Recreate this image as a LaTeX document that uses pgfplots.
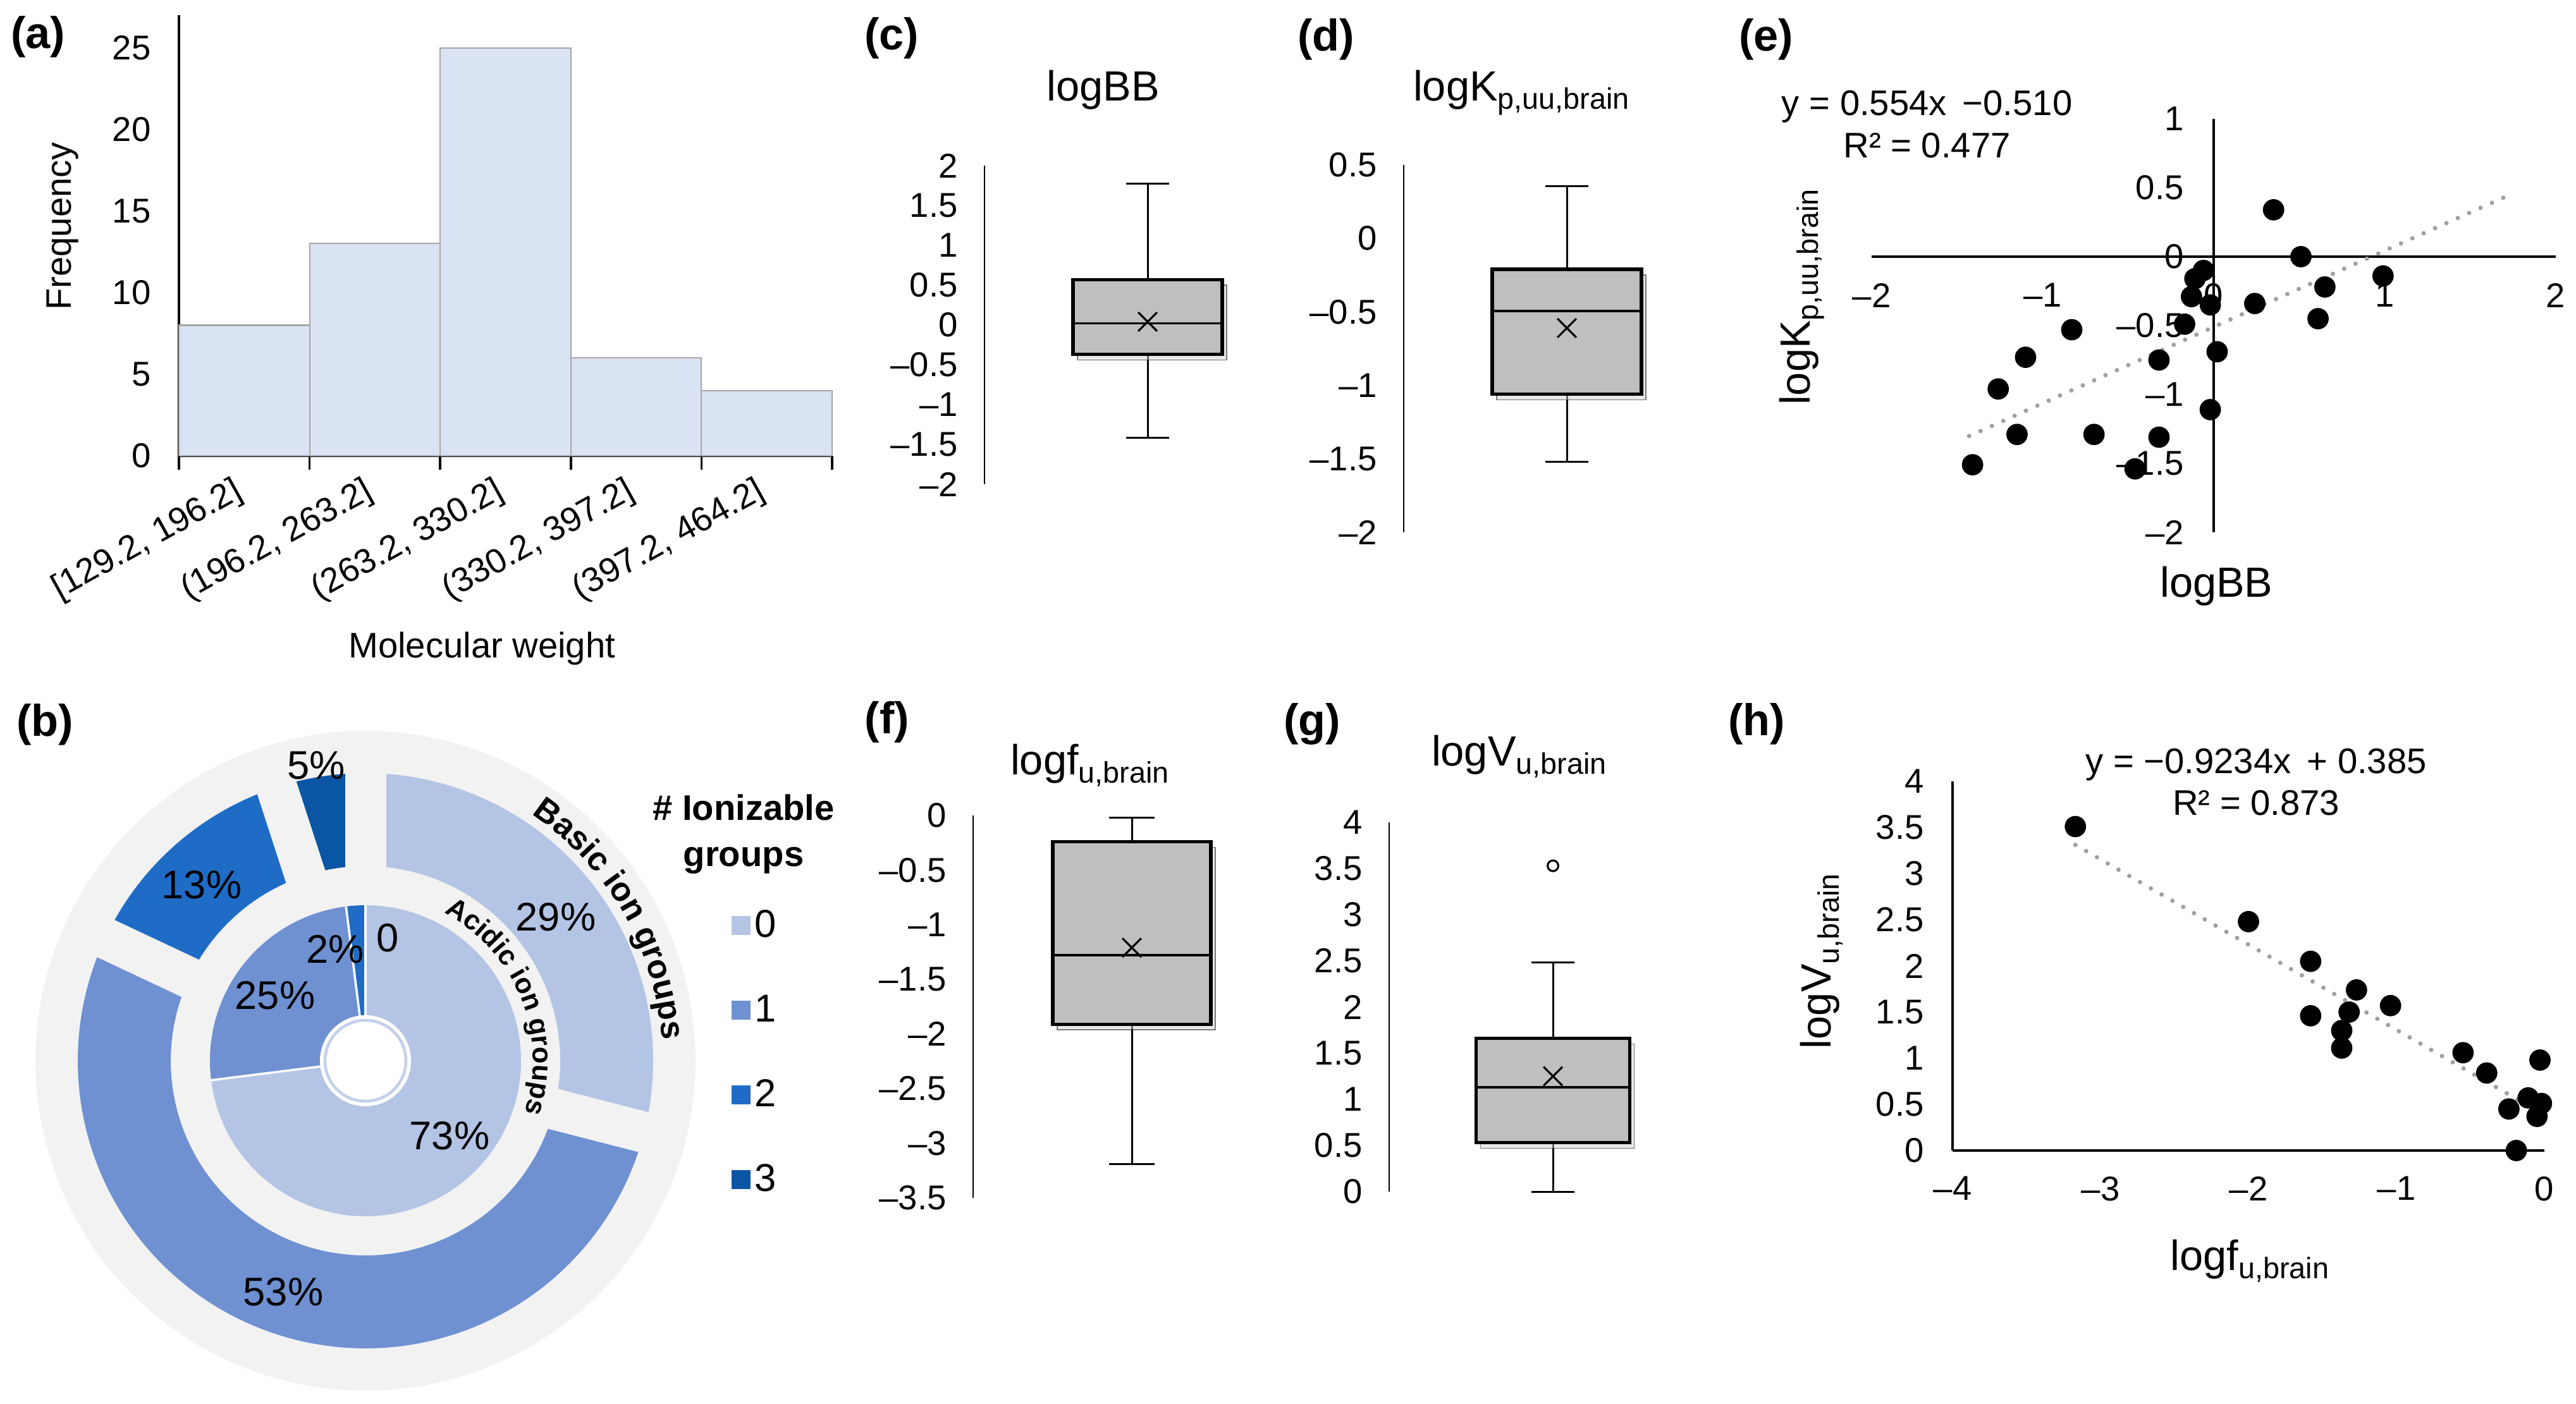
\documentclass[border=0pt]{standalone}
\usepackage{fontspec}
\setmainfont{Liberation Sans}
\usepackage{pgfplots}
\pgfplotsset{compat=1.18}
\usepgfplotslibrary{statistics}
\usetikzlibrary{decorations.text,shadows}

\definecolor{cA}{RGB}{180,196,228}
\definecolor{cB}{RGB}{111,145,210}
\definecolor{cC}{RGB}{31,108,198}
\definecolor{cD}{RGB}{11,85,165}
\definecolor{bgg}{RGB}{242,242,242}
\definecolor{barfill}{RGB}{218,227,243}
\definecolor{barline}{RGB}{166,166,166}
\definecolor{boxg}{RGB}{191,191,191}
\definecolor{trendc}{RGB}{160,160,160}

\newcommand\tk{\fontsize{15.5}{18}\selectfont}
\newcommand\ttl{\fontsize{19}{22}\selectfont}
\newcommand\pl{\fontsize{20}{24}\selectfont\bfseries}
\newcommand\pct{\fontsize{18}{21}\selectfont}
\newcommand\eqf{\fontsize{16}{19}\selectfont}

\pgfplotsset{
  boxax/.style={scale only axis, anchor=south west, xmin=0, xmax=2,
    axis x line=none, axis y line*=left,
    y axis line style={line width=0.7pt, -},
    major tick length=0pt, tick label style={font=\tk},
    yticklabel style={xshift=-0.3cm}, clip=false,
    boxplot/draw direction=y,
    boxplot/every box/.style={fill=boxg, draw=black, line width=1.5pt,
      drop shadow={shadow xshift=0.07cm, shadow yshift=-0.09cm, fill=black!18}},
    boxplot/every whisker/.style={line width=0.85pt},
    boxplot/every median/.style={line width=1.1pt},
    title style={font=\ttl, anchor=center}},
  meanx/.style={only marks, mark=x, mark size=6pt, mark options={line width=0.9pt, black}},
  dots/.style={only marks, mark=*, mark size=4.6pt, mark options={fill=black, draw=black}},
  trend/.style={trendc, line width=2pt, line cap=round, dash pattern=on 0pt off 5.6pt},
  ringsec/.style={no marks, samples=120, line cap=butt},
  sqleg/.style={legend image code/.code={\path[fill=#1, draw=none, line width=0pt] (0cm,-0.15cm) rectangle (0.3cm,0.15cm);}},
}

\begin{document}
\begin{tikzpicture}
\path[use as bounding box] (0,0) rectangle (40.74cm,-22.21cm);

% ---------------- (a) histogram
\begin{axis}[scale only axis, anchor=south west, at={(2.83cm,-7.21cm)},
  width=10.33cm, height=6.97cm, xmin=0, xmax=5, ymin=0, ymax=27,
  axis lines=left, axis line style={-, line width=1.2pt},
  xtick={0,1,2,3,4,5}, xticklabels={},
  ytick={0,5,10,15,20,25}, yticklabels={0,5,10,15,20,25}, ytick style={draw=none},
  xtick style={line width=1pt, black},
  tick align=outside, major tick length=0.22cm,
  tick label style={font=\tk}, yticklabel style={xshift=-0.1cm},
  extra x ticks={0.5,1.5,2.5,3.5,4.5},
  extra x tick labels={{[129.2, 196.2]},{(196.2, 263.2]},{(263.2, 330.2]},{(330.2, 397.2]},{(397.2, 464.2]}},
  extra x tick style={major tick length=0pt, tick label style={rotate=29, anchor=north east, xshift=-0.2cm, yshift=-0.05cm}},
  xlabel={Molecular weight}, ylabel={Frequency},
  every axis x label/.style={at={(axis description cs:0.464,-0.438)}, anchor=center, font=\fontsize{16}{19}\selectfont},
  every axis y label/.style={at={(axis description cs:-0.178,0.521)}, anchor=center, rotate=90, font=\fontsize{16}{19}\selectfont},
  clip=false]
\addplot[ybar interval, fill=barfill, draw=barline, line width=0.6pt] coordinates {(0,8) (1,13) (2,25) (3,6) (4,4) (5,4)};
\end{axis}

% ---------------- (c) logBB box
\begin{axis}[boxax, at={(15.57cm,-7.66cm)}, width=5.16cm, height=5.04cm,
  ymin=-2, ymax=2, ytick={-2,-1.5,-1,-0.5,0,0.5,1,1.5,2},
  yticklabels={--2,--1.5,--1,--0.5,0,0.5,1,1.5,2},
  title={logBB}, title style={at={(axis description cs:0.364,1.196)}}]
\addplot[boxplot prepared={draw position=1, lower whisker=-1.42, lower quartile=-0.37, median=0.02, upper quartile=0.57, upper whisker=1.77, box extend=0.915, whisker extend=0.267}] coordinates {};
\addplot[meanx] coordinates {(1,0.04)};
\end{axis}

% ---------------- (d) logKp,uu,brain box
\begin{axis}[boxax, at={(22.20cm,-8.42cm)}, width=5.16cm, height=5.81cm,
  ymin=-2, ymax=0.5, ytick={-2,-1.5,-1,-0.5,0,0.5},
  yticklabels={--2,--1.5,--1,--0.5,0,0.5},
  title={logK\textsubscript{p,uu,brain}}, title style={at={(axis description cs:0.362,1.160)}}]
\addplot[boxplot prepared={draw position=1, lower whisker=-1.52, lower quartile=-1.06, median=-0.495, upper quartile=-0.21, upper whisker=0.355, box extend=0.915, whisker extend=0.267}] coordinates {};
\addplot[meanx] coordinates {(1,-0.61)};
\end{axis}

% ---------------- (f) logfu,brain box
\begin{axis}[boxax, at={(15.39cm,-18.95cm)}, width=5.02cm, height=6.05cm,
  ymin=-3.5, ymax=0, ytick={-3.5,-3,-2.5,-2,-1.5,-1,-0.5,0},
  yticklabels={--3.5,--3,--2.5,--2,--1.5,--1,--0.5,0},
  title={logf\textsubscript{u,brain}}, title style={at={(axis description cs:0.369,1.096)}}]
\addplot[boxplot prepared={draw position=1, lower whisker=-3.19, lower quartile=-1.91, median=-1.28, upper quartile=-0.24, upper whisker=-0.02, box extend=0.996, whisker extend=0.287}] coordinates {};
\addplot[meanx] coordinates {(1,-1.21)};
\end{axis}

% ---------------- (g) logVu,brain box
\begin{axis}[boxax, at={(21.97cm,-18.85cm)}, width=5.18cm, height=5.84cm,
  ymin=0, ymax=4, ytick={0,0.5,1,1.5,2,2.5,3,3.5,4},
  yticklabels={0,0.5,1,1.5,2,2.5,3,3.5,4},
  title={logV\textsubscript{u,brain}}, title style={at={(axis description cs:0.398,1.142)}}]
\addplot[boxplot prepared={draw position=1, lower whisker=0.0, lower quartile=0.53, median=1.13, upper quartile=1.66, upper whisker=2.48, box extend=0.938, whisker extend=0.263}] coordinates {};
\addplot[meanx] coordinates {(1,1.25)};
\addplot[only marks, mark=o, mark size=2.4pt, mark options={fill=white, draw=black, line width=0.9pt}] coordinates {(1,3.53)};
\end{axis}

% ---------------- (e) scatter logBB vs logKp,uu,brain
\begin{axis}[scale only axis, anchor=south west, at={(29.60cm,-8.42cm)},
  width=10.82cm, height=6.54cm, xmin=-2, xmax=2, ymin=-2, ymax=1,
  axis lines=middle, axis line style={-, line width=1.15pt},
  xtick={-2,-1,0,1,2}, xticklabels={--2,--1,0,1,2},
  ytick={-2,-1.5,-1,-0.5,0,0.5,1}, yticklabels={--2,--1.5,--1,--0.5,0,0.5,1},
  major tick length=0pt, hide obscured x ticks=false, hide obscured y ticks=false,
  tick label style={font=\tk}, xticklabel style={yshift=-0.3cm}, yticklabel style={xshift=-0.35cm},
  xlabel={logBB}, ylabel={logK\textsubscript{p,uu,brain}},
  every axis x label/.style={at={(axis description cs:0.504,-0.131)}, anchor=center, font=\ttl},
  every axis y label/.style={at={(axis description cs:-0.102,0.570)}, anchor=center, rotate=90, font=\ttl},
  clip=false]
\addplot[trend] coordinates {(-1.43,-1.302) (1.73,0.448)};
\addplot[dots] coordinates {
 (0.35,0.34) (0.51,0.00) (0.99,-0.14) (0.65,-0.22) (0.61,-0.45) (0.24,-0.34)
 (-0.06,-0.10) (-0.11,-0.16) (-0.13,-0.29) (-0.02,-0.35) (-0.17,-0.49) (0.02,-0.69)
 (-0.02,-1.11) (-0.32,-0.75) (-0.32,-1.31) (-0.70,-1.29) (-0.46,-1.54) (-0.83,-0.53)
 (-1.10,-0.73) (-1.26,-0.96) (-1.15,-1.29) (-1.41,-1.51)};
\node[align=center, font=\eqf] at (axis description cs:0.081,0.987) {y = 0.554x \,−0.510\\R² = 0.477};
\end{axis}

% ---------------- (h) scatter logfu,brain vs logVu,brain
\begin{axis}[scale only axis, anchor=south west, at={(30.88cm,-18.20cm)},
  width=9.36cm, height=5.84cm, xmin=-4, xmax=0, ymin=0, ymax=4,
  axis lines=left, axis line style={-, line width=1.15pt},
  xtick={-4,-3,-2,-1,0}, xticklabels={--4,--3,--2,--1,0},
  ytick={0,0.5,1,1.5,2,2.5,3,3.5,4}, yticklabels={0,0.5,1,1.5,2,2.5,3,3.5,4},
  major tick length=0pt,
  tick label style={font=\tk}, xticklabel style={yshift=-0.29cm}, yticklabel style={xshift=-0.33cm},
  xlabel={logf\textsubscript{u,brain}}, ylabel={logV\textsubscript{u,brain}},
  every axis x label/.style={at={(axis description cs:0.503,-0.30)}, anchor=center, font=\ttl},
  every axis y label/.style={at={(axis description cs:-0.221,0.514)}, anchor=center, rotate=90, font=\ttl},
  clip=false]
\addplot[trend] coordinates {(-3.17,3.312) (-0.02,0.403)};
\addplot[dots] coordinates {
 (-3.17,3.51) (-2.00,2.48) (-1.58,2.05) (-1.27,1.74) (-1.04,1.57) (-1.58,1.46)
 (-1.32,1.50) (-1.37,1.30) (-1.37,1.11) (-0.55,1.06) (-0.39,0.84) (-0.03,0.98)
 (-0.24,0.45) (-0.11,0.57) (-0.02,0.51) (-0.05,0.37) (-0.19,0.00)};
\node[align=center, font=\eqf] at (axis description cs:0.513,0.998) {y = −0.9234x \,+ 0.385\\R² = 0.873};
\end{axis}

% ---------------- (b) doughnut (angles from the percentages, clockwise from 12 o'clock)
\begin{axis}[scale only axis, anchor=south west, at={(0.56cm,-22.00cm)},
  width=10.44cm, height=10.44cm, xmin=-522, xmax=522, ymin=-522, ymax=522,
  hide axis, clip=false,
  legend style={at={(axis cs:578,246)}, anchor=north west, draw=none, fill=none,
    inner sep=0pt, font=\fontsize{17.5}{20}\selectfont, row sep=0.72cm,
    /tikz/every even column/.append style={column sep=0.1cm}},
  legend cell align=left]
\addplot[fill=bgg, draw=none, domain=0:360, samples=181, forget plot] ({522*cos(x)},{522*sin(x)});
% outer ring: basic ion groups 29 / 53 / 13 / 5 %
\addplot[ringsec, color=cA, line width=1.47cm, domain=90:-14.4, sqleg=cA] ({381.5*cos(x)},{381.5*sin(x)});
\addlegendentry{0}
\addplot[ringsec, color=cB, line width=1.47cm, domain=-14.4:-205.2, sqleg=cB] ({381.5*cos(x)},{381.5*sin(x)});
\addlegendentry{1}
\addplot[ringsec, color=cC, line width=1.47cm, domain=-205.2:-252, sqleg=cC] ({381.5*cos(x)},{381.5*sin(x)});
\addlegendentry{2}
\addplot[ringsec, color=cD, line width=1.47cm, domain=-252:-270, sqleg=cD] ({381.5*cos(x)},{381.5*sin(x)});
\addlegendentry{3}
% gaps between the exploded outer slices
\addplot[bgg, line width=0.65cm, forget plot] coordinates {(0,298) (0,468)};
\addplot[bgg, line width=0.65cm, forget plot] coordinates {(288.7,-74.1) (453.3,-116.4)};
\addplot[bgg, line width=0.65cm, forget plot] coordinates {(-269.6,126.9) (-423.4,199.3)};
\addplot[bgg, line width=0.65cm, forget plot] coordinates {(-92.1,283.4) (-144.6,445.1)};
% inner ring: acidic ion groups 73 / 25 / 2 / 0 %
\addplot[ringsec, color=cA, line width=1.76cm, domain=90:-172.8, forget plot] ({158*cos(x)},{158*sin(x)});
\addplot[ringsec, color=cB, line width=1.76cm, domain=-172.8:-262.8, forget plot] ({158*cos(x)},{158*sin(x)});
\addplot[ringsec, color=cC, line width=1.76cm, domain=-262.8:-270, forget plot] ({158*cos(x)},{158*sin(x)});
\addplot[white, line width=1pt, forget plot] coordinates {(0,70) (0,246)};
\addplot[white, line width=1pt, forget plot] coordinates {(-69.4,-8.8) (-244.1,-30.8)};
\addplot[white, line width=1pt, forget plot] coordinates {(-8.8,69.4) (-30.8,244.1)};
% centre hole
\addplot[fill=white, draw=none, domain=0:360, samples=91, forget plot] ({72*cos(x)},{72*sin(x)});
\addplot[draw=cA!80, line width=1.3pt, domain=0:360, samples=91, forget plot] ({64*cos(x)},{64*sin(x)});
% labels
\node[font=\pct] at (axis cs:301,227) {29\%};
\node[font=\pct] at (axis cs:133,-119) {73\%};
\node[font=\pct] at (axis cs:-143,103) {25\%};
\node[font=\pct] at (axis cs:-48,176) {2\%};
\node[font=\pct] at (axis cs:35,194) {0};
\node[font=\pct] at (axis cs:-259,278) {13\%};
\node[font=\pct] at (axis cs:-78,467) {5\%};
\node[font=\pct] at (axis cs:-130,-366) {53\%};
\node[align=center, font=\fontsize{16}{20.8}\selectfont\bfseries] at (axis cs:598,358) {\# Ionizable\\groups};
\end{axis}
\path[decorate, decoration={text along path, text align=center,
  text={|\fontsize{15}{18}\selectfont\bfseries|Basic ion groups}}]
  (5.78cm,-16.78cm) ++(60:4.70cm) arc[start angle=60, end angle=0, radius=4.70cm];
\path[decorate, decoration={text along path, text align=center,
  text={|\fontsize{12.5}{15}\selectfont\bfseries|Acidic ion groups}}]
  (5.78cm,-16.78cm) ++(62:2.65cm) arc[start angle=62, end angle=-18, radius=2.65cm];

% ---------------- panel letters
\node[font=\pl] at (0.60cm,-0.58cm) {(a)};
\node[font=\pl] at (0.71cm,-11.46cm) {(b)};
\node[font=\pl] at (14.10cm,-0.60cm) {(c)};
\node[font=\pl] at (20.97cm,-0.62cm) {(d)};
\node[font=\pl] at (27.93cm,-0.62cm) {(e)};
\node[font=\pl] at (14.03cm,-11.42cm) {(f)};
\node[font=\pl] at (20.75cm,-11.45cm) {(g)};
\node[font=\pl] at (27.78cm,-11.45cm) {(h)};
\end{tikzpicture}
\end{document}
